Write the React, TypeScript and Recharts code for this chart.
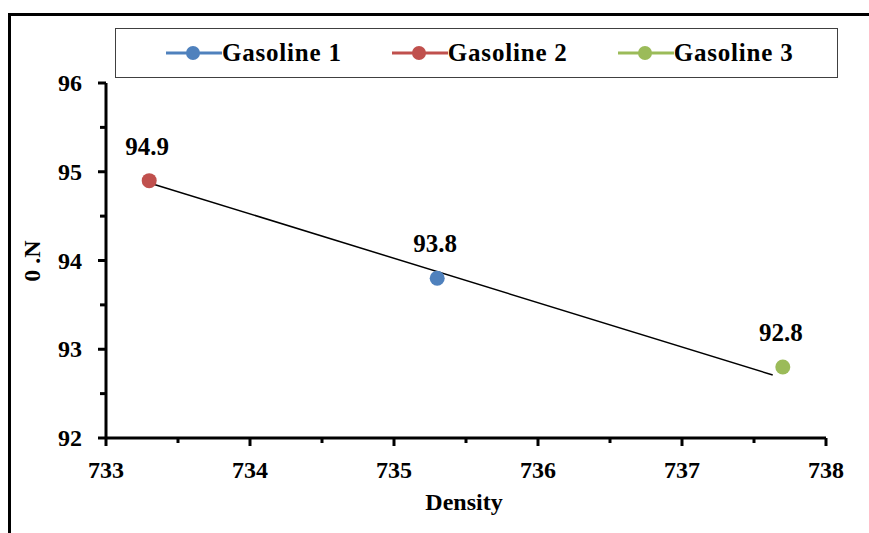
import React from 'react';
import { ComposedChart, Scatter, XAxis, YAxis } from 'recharts';

const seriesNames = ['Gasoline 1', 'Gasoline 2', 'Gasoline 3'];
const seriesColors = ['#4F81BD', '#C0504D', '#9BBB59'];
const densityValues = [735.3, 733.3, 737.7];
const octaneValues = [93.8, 94.9, 92.8];

const trendDensity = [733.33, 737.63];
const trendOctane = [94.86, 92.71];

const xTicks = [733, 733.5, 734, 734.5, 735, 735.5, 736, 736.5, 737, 737.5, 738];
const yTicks = [92, 92.5, 93, 93.5, 94, 94.5, 95, 95.5, 96];

const FONT = '"Liberation Serif", "Times New Roman", serif';

const trendData = trendDensity.map((x, i) => ({ x, y: trendOctane[i] }));

const XTick = (props: any) => {
  const { x, y, payload } = props;
  const major = Number.isInteger(payload.value);
  return (
    <g>
      <line x1={x} x2={x} y1={y} y2={y + (major ? 8 : 5)} stroke="#000" strokeWidth={3} />
      {major && (
        <text x={x} y={y + 40} textAnchor="middle" fontFamily={FONT} fontWeight="bold" fontSize={24} fill="#000">
          {payload.value}
        </text>
      )}
    </g>
  );
};

const YTick = (props: any) => {
  const { x, y, payload } = props;
  const major = Number.isInteger(payload.value);
  return (
    <g>
      <line x1={x} x2={x - (major ? 8 : 6)} y1={y} y2={y} stroke="#000" strokeWidth={3} />
      {major && (
        <text x={x - 24} y={y + 8} textAnchor="end" fontFamily={FONT} fontWeight="bold" fontSize={24} fill="#000">
          {payload.value}
        </text>
      )}
    </g>
  );
};

const pointShape = (color: string) => (props: any) => {
  const { cx, cy, payload } = props;
  return (
    <g>
      <circle cx={cx} cy={cy} r={7.5} fill={color} />
      <text x={cx - 2} y={cy - 26} textAnchor="middle" fontFamily={FONT} fontWeight="bold" fontSize={25} fill="#000">
        {payload.y.toFixed(1)}
      </text>
    </g>
  );
};

const LegendBox = () => (
  <div
    style={{
      position: 'absolute',
      left: 115,
      top: 28,
      width: 723,
      height: 50,
      border: '1.5px solid #404040',
      display: 'flex',
      alignItems: 'center',
      paddingLeft: 50,
      boxSizing: 'border-box',
      fontFamily: FONT,
      fontWeight: 'bold',
      fontSize: 25,
      letterSpacing: 0.8,
    }}
  >
    {seriesNames.map((name, i) => (
      <div key={name} style={{ display: 'flex', alignItems: 'center', marginRight: i < 2 ? 50 : 0 }}>
        <svg width={56} height={20}>
          <line x1={0} x2={56} y1={10} y2={10} stroke={seriesColors[i]} strokeWidth={3} />
          <circle cx={27} cy={10} r={7} fill={seriesColors[i]} />
        </svg>
        <span>{name}</span>
      </div>
    ))}
  </div>
);

export default function App() {
  return (
    <div style={{ position: 'absolute', left: 0, top: 0, width: 869, height: 533, background: '#fff', overflow: 'hidden' }}>
      <div
        style={{
          position: 'absolute',
          left: 8,
          top: 13,
          width: 900,
          height: 600,
          borderLeft: '3px solid #000',
          borderTop: '3px solid #000',
        }}
      />
      <ComposedChart width={869} height={533} margin={{ top: 83, right: 43, bottom: 45, left: 46 }} style={{ position: 'absolute', left: 0, top: 0 }}>
        <XAxis
          type="number"
          dataKey="x"
          domain={[733, 738]}
          ticks={xTicks}
          interval={0}
          tickSize={0}
          tickMargin={0}
          tickLine={false}
          height={50}
          axisLine={{ stroke: '#000', strokeWidth: 3 }}
          tick={<XTick />}
          allowDataOverflow
        />
        <YAxis
          type="number"
          dataKey="y"
          domain={[92, 96]}
          ticks={yTicks}
          interval={0}
          tickSize={0}
          tickMargin={0}
          tickLine={false}
          width={60}
          axisLine={{ stroke: '#000', strokeWidth: 3 }}
          tick={<YTick />}
          allowDataOverflow
        />
        <Scatter
          data={trendData}
          line={{ stroke: '#000', strokeWidth: 1.5 }}
          shape={() => <g />}
          isAnimationActive={false}
        />
        {seriesNames.map((name, i) => (
          <Scatter
            key={name}
            name={name}
            data={[{ x: densityValues[i], y: octaneValues[i] }]}
            shape={pointShape(seriesColors[i])}
            isAnimationActive={false}
          />
        ))}
        <text x={464} y={510} textAnchor="middle" fontFamily={FONT} fontWeight="bold" fontSize={24} fill="#000">
          Density
        </text>
        <text
          x={40}
          y={261}
          textAnchor="middle"
          fontFamily={FONT}
          fontWeight="bold"
          fontSize={24}
          fill="#000"
          transform="rotate(-90, 40, 261)"
        >
          0 .N
        </text>
      </ComposedChart>
      <LegendBox />
    </div>
  );
}
